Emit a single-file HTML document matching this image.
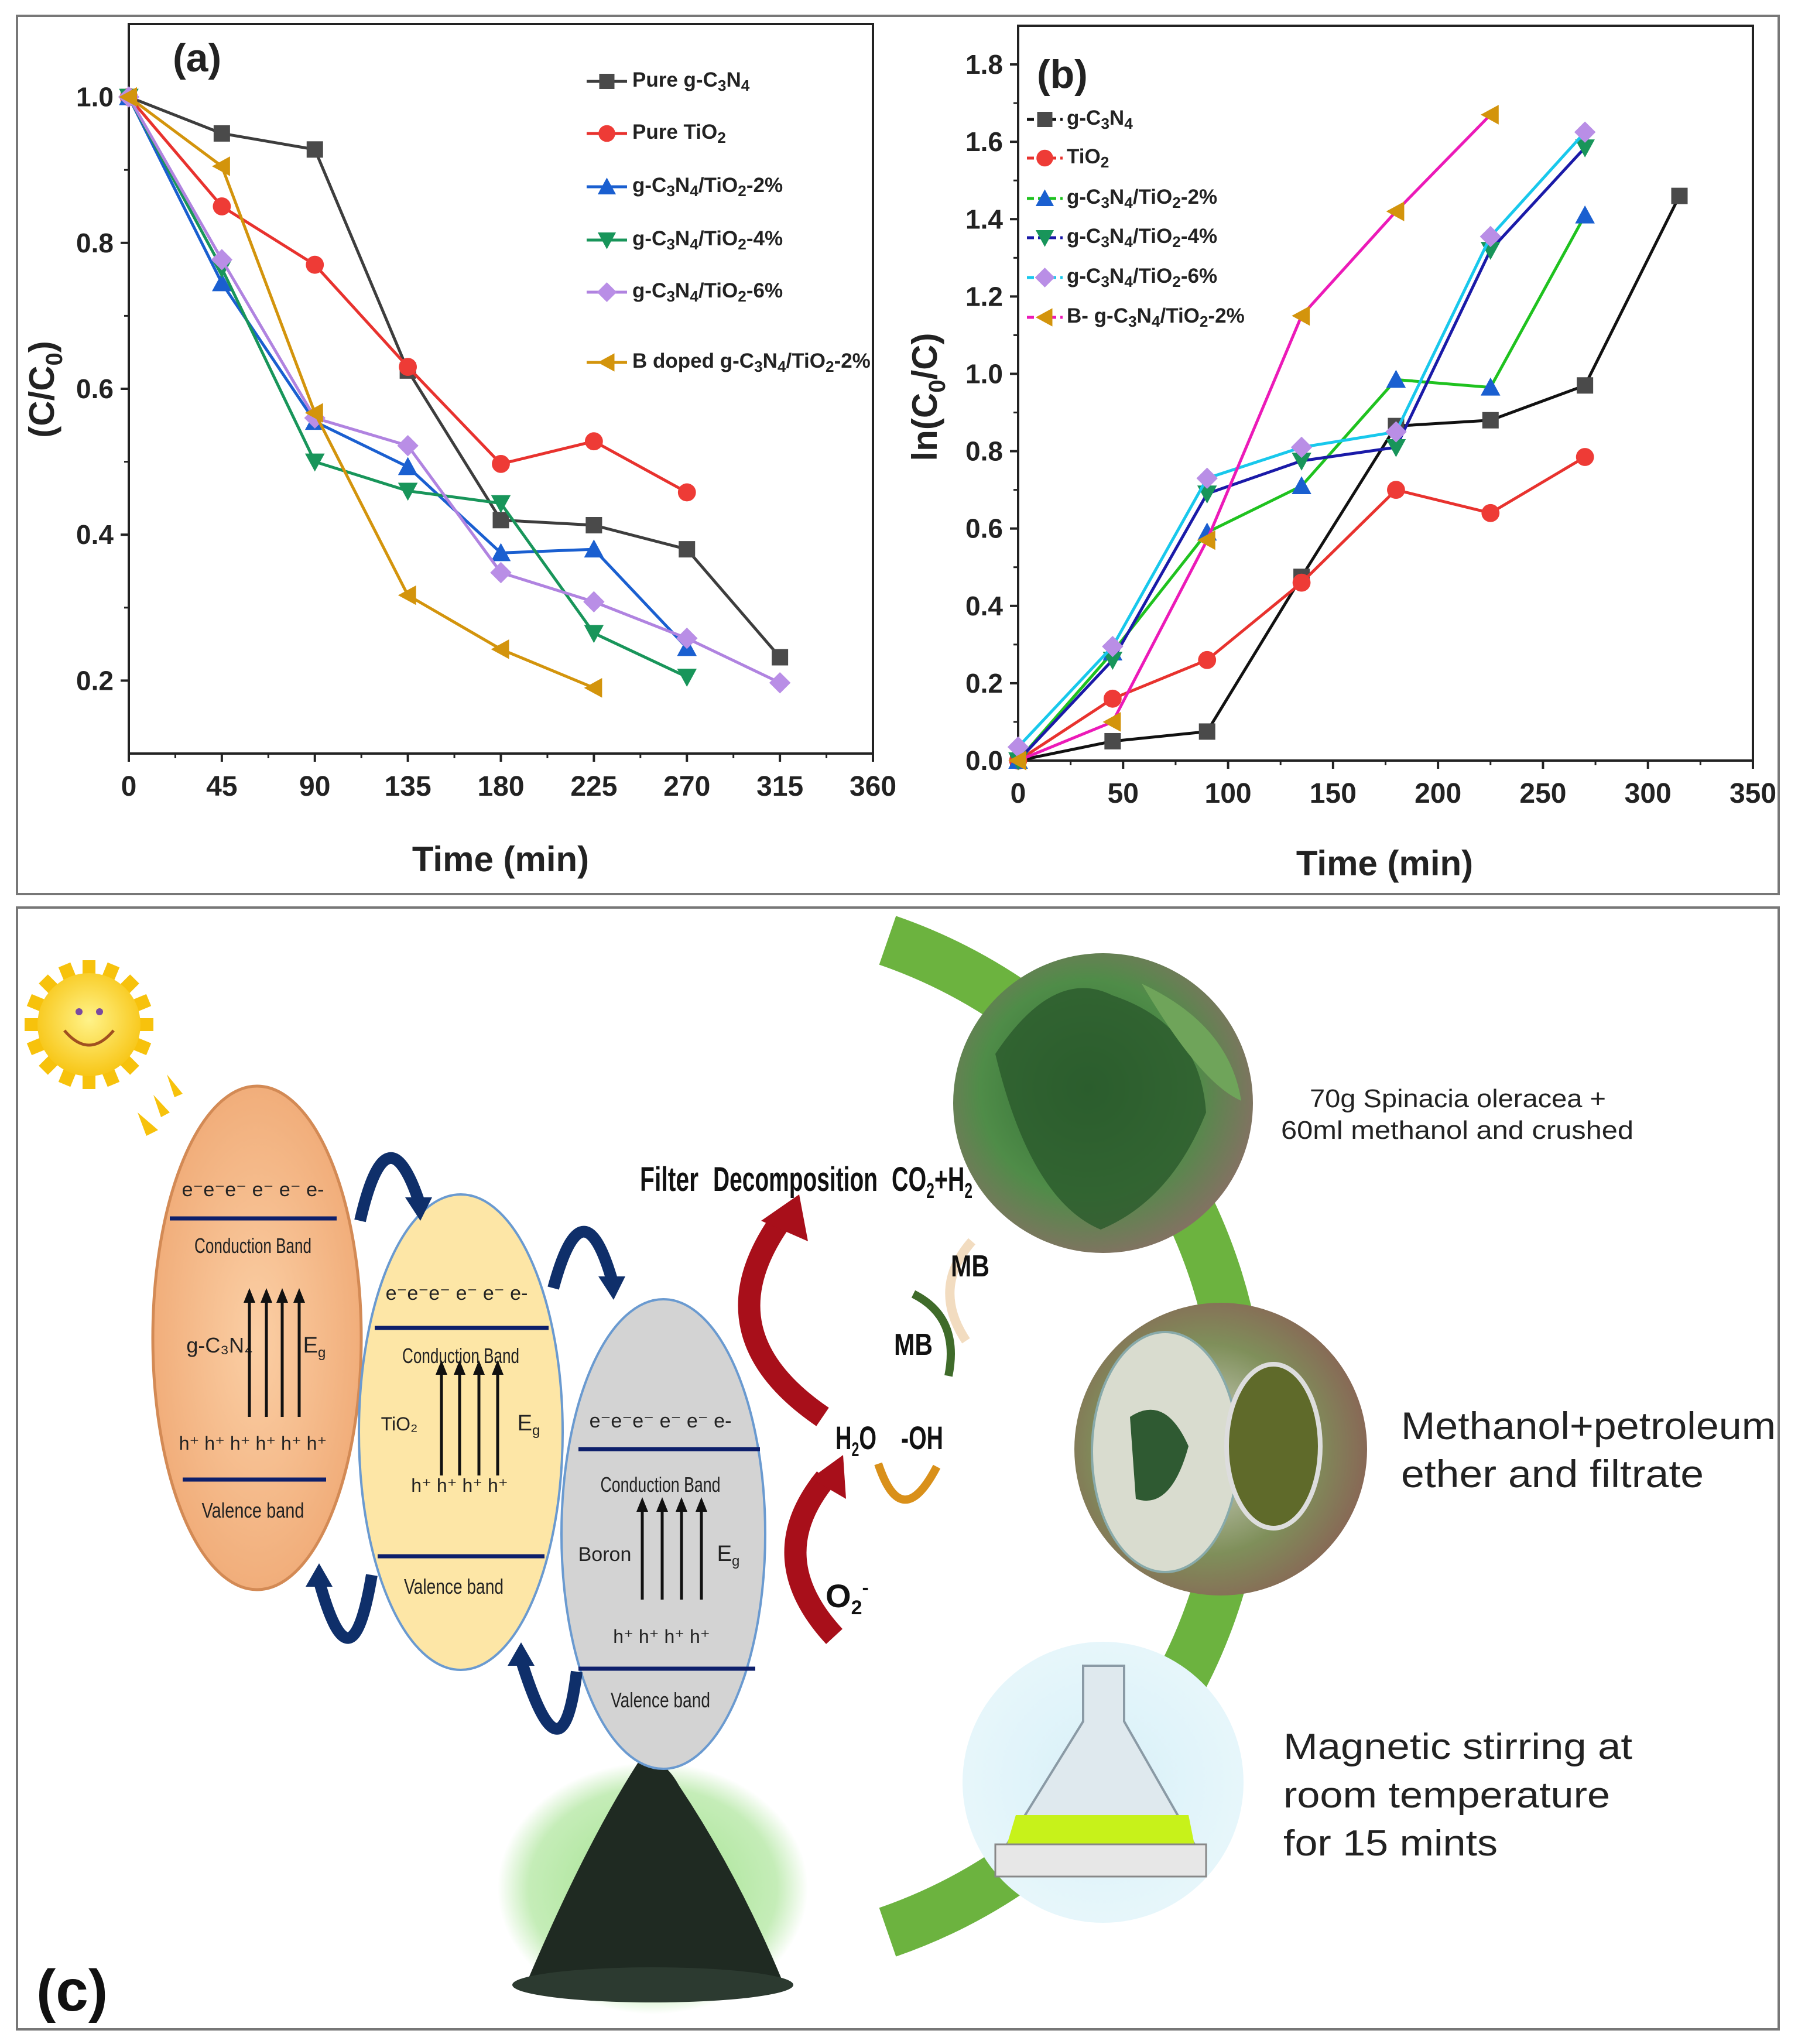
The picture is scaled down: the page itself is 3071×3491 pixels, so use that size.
<!DOCTYPE html>
<html><head><meta charset="utf-8"><style>
html,body{margin:0;padding:0;background:#fff;}
svg{display:block;font-family:"Liberation Sans",sans-serif;}
</style></head><body>
<svg id="fig" width="3071" height="3491" viewBox="0 0 3071 3491" xmlns="http://www.w3.org/2000/svg">
<rect x="0" y="0" width="3071" height="3491" fill="#fff"/>
<rect x="29" y="27" width="3009" height="1500" fill="none" stroke="#777" stroke-width="4"/>
<rect x="29" y="1550" width="3009" height="1916" fill="none" stroke="#777" stroke-width="4"/>
<g id="chartA"></g>
<g id="chartB"></g>

<!-- Panel c -->
<g>
  <defs>
    <radialGradient id="sunG" cx="0.5" cy="0.45" r="0.6"><stop offset="0" stop-color="#fff38a"/><stop offset="1" stop-color="#f7c20c"/></radialGradient>
    <radialGradient id="orG" cx="0.5" cy="0.5" r="0.6"><stop offset="0" stop-color="#fbcfa5"/><stop offset="1" stop-color="#efa772"/></radialGradient>
    <radialGradient id="halo" cx="0.5" cy="0.5" r="0.5"><stop offset="0" stop-color="#9fe08a"/><stop offset="0.8" stop-color="#c5edb8"/><stop offset="1" stop-color="#ffffff"/></radialGradient>
    <radialGradient id="leafG" cx="0.45" cy="0.45" r="0.6"><stop offset="0" stop-color="#2f6b34"/><stop offset="0.6" stop-color="#4f8c48"/><stop offset="1" stop-color="#8a6e66"/></radialGradient>
    <radialGradient id="methG" cx="0.45" cy="0.5" r="0.6"><stop offset="0" stop-color="#d7d8cf"/><stop offset="0.6" stop-color="#7f8f5a"/><stop offset="1" stop-color="#8a5e55"/></radialGradient>
    <radialGradient id="flaskG" cx="0.5" cy="0.5" r="0.55"><stop offset="0" stop-color="#d8f0f8"/><stop offset="1" stop-color="#e8f7fb"/></radialGradient>
  </defs>
  <!-- green arc -->
  <path d="M1516 1606 A896 896 0 0 1 1516 3300" fill="none" stroke="#6cb33f" stroke-width="88"/>
  <!-- sun -->
  <g transform="translate(0,1460)">
    <g stroke="#f7c20c" stroke-width="22">
      <line x1="152" y1="180" x2="152" y2="400"/><line x1="42" y1="290" x2="262" y2="290"/>
      <line x1="74" y1="212" x2="230" y2="368"/><line x1="74" y1="368" x2="230" y2="212"/>
      <line x1="110" y1="188" x2="194" y2="392"/><line x1="194" y1="188" x2="110" y2="392"/>
      <line x1="50" y1="248" x2="254" y2="332"/><line x1="50" y1="332" x2="254" y2="248"/>
    </g>
    <circle cx="152" cy="290" r="88" fill="url(#sunG)"/>
    <path d="M110 300 Q152 350 194 300" fill="none" stroke="#a05020" stroke-width="5"/>
    <circle cx="135" cy="268" r="6" fill="#7a4aa0"/><circle cx="170" cy="268" r="6" fill="#7a4aa0"/>
    <polygon points="235,440 270,470 250,480" fill="#f7c20c"/>
    <polygon points="262,410 290,440 275,448" fill="#f7c20c"/>
    <polygon points="285,375 312,408 298,414" fill="#f7c20c"/>
  </g>
  <!-- powder -->
  <ellipse cx="1115" cy="3225" rx="265" ry="215" fill="url(#halo)"/>
  <path d="M900 3385 Q1000 3150 1090 3010 Q1130 2995 1160 3050 Q1260 3200 1335 3380 Z" fill="#1f2a22"/>
  <ellipse cx="1115" cy="3390" rx="240" ry="30" fill="#2c3a30"/>
  <!-- ellipses -->
  <g>
    <ellipse cx="439" cy="2285" rx="178" ry="430" fill="url(#orG)" stroke="#d38a55" stroke-width="5"/>
    <text x="432" y="2043" font-size="34" text-anchor="middle" fill="#222">e⁻e⁻e⁻ e⁻ e⁻  e-</text>
    <line x1="290" y1="2081" x2="575" y2="2081" stroke="#0d1f6b" stroke-width="7"/>
    <text x="432" y="2140" font-size="36" text-anchor="middle" fill="#222" textLength="200" lengthAdjust="spacingAndGlyphs">Conduction Band</text>
    <text x="375" y="2310" font-size="36" text-anchor="middle" fill="#222">g-C₃N₄</text>
    <text x="537" y="2310" font-size="38" text-anchor="middle" fill="#222">E<tspan font-size="24" dy="8">g</tspan></text>
    <text x="432" y="2476" font-size="32" text-anchor="middle" fill="#222">h⁺ h⁺ h⁺ h⁺  h⁺  h⁺</text>
    <line x1="312" y1="2527" x2="557" y2="2527" stroke="#0d1f6b" stroke-width="7"/>
    <text x="432" y="2592" font-size="36" text-anchor="middle" fill="#222" textLength="175" lengthAdjust="spacingAndGlyphs">Valence band</text>
  </g>
  <g>
    <ellipse cx="787" cy="2446" rx="174" ry="406" fill="#fde6a6" stroke="#6a9ad0" stroke-width="4"/>
    <text x="780" y="2220" font-size="34" text-anchor="middle" fill="#222">e⁻e⁻e⁻ e⁻ e⁻  e-</text>
    <line x1="640" y1="2268" x2="937" y2="2268" stroke="#0d1f6b" stroke-width="7"/>
    <text x="787" y="2328" font-size="36" text-anchor="middle" fill="#222" textLength="200" lengthAdjust="spacingAndGlyphs">Conduction Band</text>
    <text x="682" y="2443" font-size="32" text-anchor="middle" fill="#222">TiO₂</text>
    <text x="903" y="2443" font-size="38" text-anchor="middle" fill="#222">E<tspan font-size="24" dy="8">g</tspan></text>
    <text x="785" y="2548" font-size="32" text-anchor="middle" fill="#222">h⁺ h⁺  h⁺  h⁺</text>
    <line x1="645" y1="2658" x2="930" y2="2658" stroke="#0d1f6b" stroke-width="7"/>
    <text x="775" y="2722" font-size="36" text-anchor="middle" fill="#222" textLength="170" lengthAdjust="spacingAndGlyphs">Valence band</text>
  </g>
  <g>
    <ellipse cx="1133" cy="2620" rx="174" ry="401" fill="#d3d3d3" stroke="#6a9ad0" stroke-width="4"/>
    <text x="1128" y="2438" font-size="34" text-anchor="middle" fill="#222">e⁻e⁻e⁻ e⁻ e⁻  e-</text>
    <line x1="988" y1="2475" x2="1298" y2="2475" stroke="#0d1f6b" stroke-width="7"/>
    <text x="1128" y="2548" font-size="36" text-anchor="middle" fill="#222" textLength="205" lengthAdjust="spacingAndGlyphs">Conduction Band</text>
    <text x="1033" y="2666" font-size="34" text-anchor="middle" fill="#222">Boron</text>
    <text x="1244" y="2666" font-size="38" text-anchor="middle" fill="#222">E<tspan font-size="24" dy="8">g</tspan></text>
    <text x="1130" y="2806" font-size="32" text-anchor="middle" fill="#222">h⁺ h⁺  h⁺  h⁺</text>
    <line x1="988" y1="2850" x2="1290" y2="2850" stroke="#0d1f6b" stroke-width="7"/>
    <text x="1128" y="2916" font-size="36" text-anchor="middle" fill="#222" textLength="170" lengthAdjust="spacingAndGlyphs">Valence band</text>
  </g>
  <!-- vertical arrows -->
  <g stroke="#111" stroke-width="5" fill="#111">
    <line x1="426" y1="2420" x2="426" y2="2215"/><line x1="455" y1="2420" x2="455" y2="2215"/><line x1="482" y1="2420" x2="482" y2="2215"/><line x1="511" y1="2420" x2="511" y2="2215"/>
    <line x1="754" y1="2520" x2="754" y2="2338"/><line x1="785" y1="2520" x2="785" y2="2338"/><line x1="818" y1="2520" x2="818" y2="2338"/><line x1="850" y1="2520" x2="850" y2="2338"/>
    <line x1="1097" y1="2732" x2="1097" y2="2572"/><line x1="1131" y1="2732" x2="1131" y2="2572"/><line x1="1164" y1="2732" x2="1164" y2="2572"/><line x1="1198" y1="2732" x2="1198" y2="2572"/>
    <path d="M416 2225 L426 2200 L436 2225Z M445 2225 L455 2200 L465 2225Z M472 2225 L482 2200 L492 2225Z M501 2225 L511 2200 L521 2225Z" stroke="none"/>
    <path d="M744 2348 L754 2323 L764 2348Z M775 2348 L785 2323 L795 2348Z M808 2348 L818 2323 L828 2348Z M840 2348 L850 2323 L860 2348Z" stroke="none"/>
    <path d="M1087 2582 L1097 2557 L1107 2582Z M1121 2582 L1131 2557 L1141 2582Z M1154 2582 L1164 2557 L1174 2582Z M1188 2582 L1198 2557 L1208 2582Z" stroke="none"/>
  </g>
  <!-- navy transfer arrows -->
  <g fill="none" stroke="#0f2f6a" stroke-width="20">
    <path d="M615 2085 Q660 1890 715 2050"/>
    <path d="M945 2200 Q995 2015 1045 2185"/>
    <path d="M635 2690 Q600 2900 545 2700"/>
    <path d="M985 2855 Q960 3060 890 2835"/>
  </g>
  <g fill="#0f2f6a">
    <polygon points="692,2045 738,2045 718,2085"/>
    <polygon points="1022,2180 1068,2180 1048,2220"/>
    <polygon points="522,2710 568,2710 545,2670"/>
    <polygon points="867,2845 913,2845 890,2805"/>
  </g>
  <!-- red arrows -->
  <g fill="none" stroke="#a80f1a" stroke-width="38">
    <path d="M1405 2420 Q1200 2280 1330 2090"/>
    <path d="M1425 2795 Q1300 2660 1410 2525"/>
  </g>
  <polygon points="1300,2085 1365,2040 1380,2120" fill="#a80f1a"/>
  <polygon points="1385,2525 1440,2485 1445,2560" fill="#a80f1a"/>
  <path d="M1660 2120 Q1590 2200 1650 2290" fill="none" stroke="#f2dcc0" stroke-width="16"/>
  <path d="M1560 2210 Q1640 2250 1620 2350" fill="none" stroke="#3f6b2a" stroke-width="14"/>
  <path d="M1500 2500 Q1540 2620 1600 2505" fill="none" stroke="#d9901a" stroke-width="14"/>
  <g font-family="'Liberation Sans Narrow','Liberation Sans',sans-serif" font-weight="bold" fill="#111" font-size="58">
    <text x="1093" y="2034" textLength="100" lengthAdjust="spacingAndGlyphs">Filter</text>
    <text x="1218" y="2034" textLength="281" lengthAdjust="spacingAndGlyphs">Decomposition</text>
    <text x="1523" y="2034" textLength="138" lengthAdjust="spacingAndGlyphs">CO<tspan font-size="36" dy="12">2</tspan><tspan dy="-12">+H</tspan><tspan font-size="36" dy="12">2</tspan></text>
    <text x="1624" y="2180" font-size="52" textLength="66" lengthAdjust="spacingAndGlyphs">MB</text>
    <text x="1527" y="2314" font-size="52" textLength="66" lengthAdjust="spacingAndGlyphs">MB</text>
    <text x="1427" y="2475" font-size="56" textLength="70" lengthAdjust="spacingAndGlyphs">H<tspan font-size="34" dy="12">2</tspan><tspan dy="-12">O</tspan></text>
    <text x="1539" y="2475" font-size="56" textLength="72" lengthAdjust="spacingAndGlyphs">-OH</text>
    <text x="1410" y="2745" font-size="56">O<tspan font-size="34" dy="12">2</tspan><tspan font-size="34" dy="-34">-</tspan></text>
  </g>
  <!-- photo circles -->
  <g>
    <circle cx="1884" cy="1884" r="256" fill="url(#leafG)"/>
    <path d="M1700 1800 Q1800 1650 1900 1700 Q2050 1750 2060 1900 Q2000 2050 1880 2100 Q1760 2050 1700 1800Z" fill="#2b5a2c" opacity="0.8"/>
    <path d="M1950 1680 Q2100 1750 2120 1880 Q2050 1850 1950 1680Z" fill="#6fa45a"/>
  </g>
  <g>
    <circle cx="2085" cy="2475" r="250" fill="url(#methG)"/>
    <ellipse cx="1990" cy="2480" rx="125" ry="205" fill="#d9dccf" stroke="#8aa" stroke-width="4"/>
    <path d="M1930 2420 Q1990 2380 2030 2470 Q2000 2580 1940 2560Z" fill="#2f5a32"/>
    <ellipse cx="2175" cy="2470" rx="80" ry="140" fill="#5f6a2a" stroke="#ddd" stroke-width="8"/>
  </g>
  <g>
    <circle cx="1884" cy="3044" r="240" fill="url(#flaskG)"/>
    <path d="M1850 2845 L1920 2845 L1920 2940 L2040 3150 L1720 3150 L1850 2940Z" fill="#dfe9ee" stroke="#8a9aa5" stroke-width="4"/>
    <path d="M1735 3100 L2030 3100 L2040 3150 L1720 3150Z" fill="#c7f21a"/>
    <rect x="1700" y="3150" width="360" height="55" fill="#e7e7e7" stroke="#888" stroke-width="3"/>
  </g>
  <g font-family="'Liberation Sans','DejaVu Sans',sans-serif" fill="#222">
    <text x="2237" y="1891" font-size="44" textLength="506" lengthAdjust="spacingAndGlyphs">70g  Spinacia oleracea +</text>
    <text x="2188" y="1945" font-size="44" textLength="602" lengthAdjust="spacingAndGlyphs">60ml methanol and crushed</text>
    <text x="2393" y="2458" font-size="66" textLength="640" lengthAdjust="spacingAndGlyphs">Methanol+petroleum</text>
    <text x="2393" y="2540" font-size="66" textLength="517" lengthAdjust="spacingAndGlyphs">ether and filtrate</text>
    <text x="2192" y="3004" font-size="62" textLength="596" lengthAdjust="spacingAndGlyphs">Magnetic stirring at</text>
    <text x="2192" y="3087" font-size="62" textLength="558" lengthAdjust="spacingAndGlyphs">room temperature</text>
    <text x="2192" y="3169" font-size="62" textLength="366" lengthAdjust="spacingAndGlyphs">for 15 mints</text>
  </g>
  <text x="62" y="3434" font-size="100" font-weight="bold" fill="#111">(c)</text>
</g>

<script>
// ---------- Panel (a) data ----------
const aTimes = [0, 45, 90, 135, 180, 225, 270, 315];
const aPureGCN = [1.0, 0.95, 0.928, 0.625, 0.42, 0.413, 0.38, 0.232];
const aPureTiO2 = [1.0, 0.85, 0.77, 0.63, 0.497, 0.528, 0.458];
const aGCN2 = [1.0, 0.745, 0.555, 0.493, 0.375, 0.38, 0.245];
const aGCN4 = [1.0, 0.765, 0.5, 0.46, 0.443, 0.265, 0.205];
const aGCN6 = [1.0, 0.777, 0.56, 0.522, 0.348, 0.308, 0.258, 0.197];
const aBdoped = [1.0, 0.905, 0.567, 0.317, 0.243, 0.19];
const aXTicks = [0, 45, 90, 135, 180, 225, 270, 315, 360];
const aYTicks = [0.2, 0.4, 0.6, 0.8, 1.0];
// ---------- Panel (b) data ----------
const bTimes = [0, 45, 90, 135, 180, 225, 270, 315];
const bGCN = [0, 0.05, 0.075, 0.475, 0.865, 0.88, 0.97, 1.46];
const bTiO2 = [0, 0.16, 0.26, 0.46, 0.70, 0.64, 0.785];
const bGCN2 = [0, 0.28, 0.59, 0.71, 0.985, 0.965, 1.41];
const bGCN4 = [0, 0.26, 0.69, 0.775, 0.81, 1.32, 1.585];
const bGCN6 = [0.035, 0.295, 0.73, 0.81, 0.85, 1.355, 1.625];
const bBdoped = [0, 0.10, 0.57, 1.15, 1.42, 1.67];
const bXTicks = [0, 50, 100, 150, 200, 250, 300, 350];
const bYTicks = [0.0, 0.2, 0.4, 0.6, 0.8, 1.0, 1.2, 1.4, 1.6, 1.8];

const NS = 'http://www.w3.org/2000/svg';
function mk(parent, tag, attrs, text) {
  const e = document.createElementNS(NS, tag);
  for (const k in attrs) e.setAttribute(k, attrs[k]);
  if (text !== undefined) e.textContent = text;
  parent.appendChild(e);
  return e;
}
function marker(g, type, x, y, fill, r) {
  let el;
  if (type === 'square') el = mk(g, 'rect', {x: x - r, y: y - r, width: 2 * r, height: 2 * r, fill: fill});
  else if (type === 'circle') el = mk(g, 'circle', {cx: x, cy: y, r: r * 1.1, fill: fill});
  else if (type === 'up') el = mk(g, 'polygon', {points: `${x},${y - r * 1.2} ${x - r * 1.2},${y + r} ${x + r * 1.2},${y + r}`, fill: fill});
  else if (type === 'down') el = mk(g, 'polygon', {points: `${x},${y + r * 1.2} ${x - r * 1.2},${y - r} ${x + r * 1.2},${y - r}`, fill: fill});
  else if (type === 'diamond') el = mk(g, 'polygon', {points: `${x},${y - r * 1.3} ${x + r * 1.3},${y} ${x},${y + r * 1.3} ${x - r * 1.3},${y}`, fill: fill});
  else el = mk(g, 'polygon', {points: `${x - r * 1.2},${y} ${x + r},${y - r * 1.2} ${x + r},${y + r * 1.2}`, fill: fill});
  return el;
}
function legendText(g, x, y, parts, size) {
  const t = mk(g, 'text', {x: x, y: y, 'font-size': size, 'font-weight': 'bold', fill: '#222', 'dominant-baseline': 'middle'});
  parts.forEach(p => {
    mk(t, 'tspan', p[1] ? {'font-size': size * 0.75, dy: size * 0.25} : {dy: p[2] ? -size * 0.25 : 0}, p[0]);
  });
  return t;
}

function drawChart(cfg) {
  const g = document.getElementById(cfg.id);
  const X = v => cfg.x0 + (v - cfg.xmin) / (cfg.xmax - cfg.xmin) * (cfg.x1 - cfg.x0);
  const Y = v => cfg.y0 - (v - cfg.ymin) / (cfg.ymax - cfg.ymin) * (cfg.y0 - cfg.y1);
  const frame = mk(g, 'rect', {x: cfg.x0, y: cfg.y1, width: cfg.x1 - cfg.x0, height: cfg.y0 - cfg.y1, fill: 'none', stroke: '#222', 'stroke-width': 4});
  
  
  cfg.xTicks.forEach((t, i) => {
    const x = X(t);
    mk(g, 'line', {x1: x, y1: cfg.y0, x2: x, y2: cfg.y0 + 14, stroke: '#222', 'stroke-width': 4});
    if (i < cfg.xTicks.length - 1) {
      const xm = X(t + (cfg.xTicks[1] - cfg.xTicks[0]) / 2);
      mk(g, 'line', {x1: xm, y1: cfg.y0, x2: xm, y2: cfg.y0 + 8, stroke: '#222', 'stroke-width': 3});
    }
    const lab = mk(g, 'text', {x: x, y: cfg.y0 + 72, 'font-size': 48, 'font-weight': 'bold', 'text-anchor': 'middle', fill: '#222'}, String(t));
    
    
  });
  cfg.yTicks.forEach((t, i) => {
    const y = Y(t);
    mk(g, 'line', {x1: cfg.x0 - 14, y1: y, x2: cfg.x0, y2: y, stroke: '#222', 'stroke-width': 4});
    const ym = Y(t + cfg.yStep / 2);
    if (ym > cfg.y1) mk(g, 'line', {x1: cfg.x0 - 8, y1: ym, x2: cfg.x0, y2: ym, stroke: '#222', 'stroke-width': 3});
    const lab = mk(g, 'text', {x: cfg.x0 - 26, y: y + 16, 'font-size': 46, 'font-weight': 'bold', 'text-anchor': 'end', fill: '#222'}, t.toFixed(1));
    
    
  });
  const ym0 = Y(cfg.yTicks[0] - cfg.yStep / 2);
  if (ym0 < cfg.y0) mk(g, 'line', {x1: cfg.x0 - 8, y1: ym0, x2: cfg.x0, y2: ym0, stroke: '#222', 'stroke-width': 3});
  const xt = mk(g, 'text', {x: cfg.xTitleX, y: cfg.xTitleY, 'font-size': 60, 'font-weight': 'bold', 'text-anchor': 'middle', fill: '#222'}, 'Time (min)');
  
  
  const yt = mk(g, 'text', {x: 0, y: 0, 'font-size': 60, 'font-weight': 'bold', 'text-anchor': 'middle', fill: '#222', transform: `translate(${cfg.yTitleX},${cfg.yTitleY}) rotate(-90)`});
  cfg.yTitle.forEach(p => mk(yt, 'tspan', p[1] ? {'font-size': 40, dy: 14} : {dy: p[2] ? -14 : 0}, p[0]));
  
  
  const pl = mk(g, 'text', {x: cfg.panelX, y: cfg.panelY, 'font-size': 68, 'font-weight': 'bold', fill: '#222'}, cfg.panel);
  
  
  cfg.series.forEach((s, si) => {
    const sg = mk(g, 'g', {});
    
    
    const pts = s.values.map((v, i) => X(cfg.times[i]) + ',' + Y(v)).join(' ');
    mk(sg, 'polyline', {points: pts, fill: 'none', stroke: s.line, 'stroke-width': 5});
    s.values.forEach((v, i) => {
      const m = marker(sg, s.marker, X(cfg.times[i]), Y(v), s.fill, 14);
      
      
    });
    const lg = mk(g, 'g', {});
    
    
    const ly = cfg.legendY[si];
    mk(lg, 'line', {x1: cfg.legX0, y1: ly, x2: cfg.legX1, y2: ly, stroke: s.line, 'stroke-width': 5, 'stroke-dasharray': cfg.legDash});
    marker(lg, s.marker, (cfg.legX0 + cfg.legX1) / 2, ly, s.fill, 13);
    legendText(lg, cfg.legTextX, ly, s.label, cfg.legSize);
  });
}

const labGCN = (pre) => [[pre + 'g-C'], ['3', 1], ['N', 0, 1], ['4', 1]];
const labComp = (pre, pct) => [[pre + 'g-C'], ['3', 1], ['N', 0, 1], ['4', 1], ['/TiO', 0, 1], ['2', 1], ['-' + pct, 0, 1]];

drawChart({
  id: 'chartA', x0: 220, x1: 1491, y0: 1287, y1: 41, xmin: 0, xmax: 360, ymin: 0.1, ymax: 1.1,
  times: aTimes, xTicks: aXTicks, yTicks: aYTicks, yStep: 0.2,
  xTitleX: 855, xTitleY: 1488, yTitleX: 92, yTitleY: 665,
  yTitle: [['(C/C'], ['0', 1], [')', 0, 1]],
  panel: '(a)', panelX: 295, panelY: 122,
  legX0: 1002, legX1: 1071, legTextX: 1080, legSize: 35, legDash: 'none',
  legendY: [139, 228, 319, 410, 499, 619],
  series: [
    {key: 'pure-gc3n4', values: aPureGCN, line: '#3d3d3d', fill: '#4a4a4a', marker: 'square', label: labGCN('Pure ')},
    {key: 'pure-tio2', values: aPureTiO2, line: '#e8322e', fill: '#ee3b36', marker: 'circle', label: [['Pure TiO'], ['2', 1]]},
    {key: 'gc3n4-tio2-2', values: aGCN2, line: '#1a5fd0', fill: '#1a5fd0', marker: 'up', label: labComp('', '2%')},
    {key: 'gc3n4-tio2-4', values: aGCN4, line: '#18955a', fill: '#18955a', marker: 'down', label: labComp('', '4%')},
    {key: 'gc3n4-tio2-6', values: aGCN6, line: '#b083e0', fill: '#b98ee6', marker: 'diamond', label: labComp('', '6%')},
    {key: 'b-doped', values: aBdoped, line: '#d3940c', fill: '#d3940c', marker: 'left', label: labComp('B doped ', '2%')}
  ]
});
drawChart({
  id: 'chartB', x0: 1739, x1: 2994, y0: 1299, y1: 44, xmin: 0, xmax: 350, ymin: 0, ymax: 1.9,
  times: bTimes, xTicks: bXTicks, yTicks: bYTicks, yStep: 0.2,
  xTitleX: 2365, xTitleY: 1495, yTitleX: 1600, yTitleY: 678,
  yTitle: [['ln(C'], ['0', 1], ['/C)', 0, 1]],
  panel: '(b)', panelX: 1771, panelY: 150,
  legX0: 1754, legX1: 1815, legTextX: 1822, legSize: 35, legDash: '12 7',
  legendY: [204, 270, 339, 406, 474, 542],
  series: [
    {key: 'gc3n4', values: bGCN, line: '#111', fill: '#4a4a4a', marker: 'square', label: labGCN('')},
    {key: 'tio2', values: bTiO2, line: '#e8322e', fill: '#ee3b36', marker: 'circle', label: [['TiO'], ['2', 1]]},
    {key: 'gc3n4-tio2-2', values: bGCN2, line: '#1fc21f', fill: '#1a5fd0', marker: 'up', label: labComp('', '2%')},
    {key: 'gc3n4-tio2-4', values: bGCN4, line: '#1a1aa8', fill: '#18955a', marker: 'down', label: labComp('', '4%')},
    {key: 'gc3n4-tio2-6', values: bGCN6, line: '#18c8ec', fill: '#b98ee6', marker: 'diamond', label: labComp('', '6%')},
    {key: 'b-gc3n4-tio2-2', values: bBdoped, line: '#ec1ab8', fill: '#d3940c', marker: 'left', label: labComp('B- ', '2%')}
  ]
});
</script>
</svg>
</body></html>
